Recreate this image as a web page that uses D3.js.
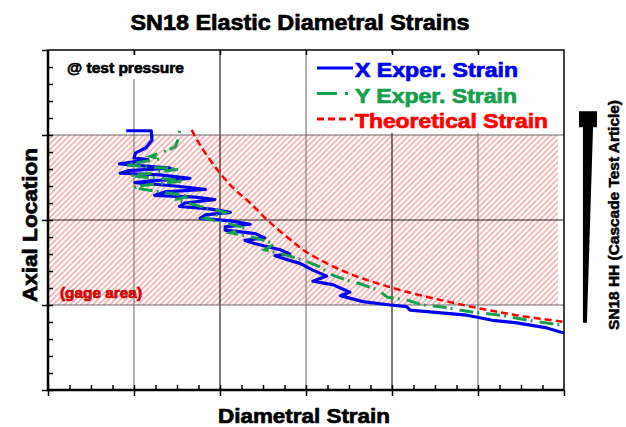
<!DOCTYPE html>
<html>
<head>
<meta charset="utf-8">
<script src="https://cdnjs.cloudflare.com/ajax/libs/d3/7.8.5/d3.min.js"></script>
<style>
body { margin: 0; background: #fff; }
svg text { font-family: "Liberation Sans", Arial, sans-serif; font-weight: bold; }
</style>
</head>
<body>
<div id="chart"></div>
<script>
// [strain, axial location]
var xExper = [[0.91,3.05],[1.20,3.05],[1.21,2.94],[1.14,2.85],[1.02,2.79],[1.00,2.73],[1.16,2.71],
  [0.90,2.67],[0.83,2.66],[1.07,2.64],[1.42,2.61],[0.93,2.58],[0.84,2.55],[1.30,2.53],[1.65,2.49],
  [1.19,2.46],[1.01,2.44],[1.48,2.40],[1.83,2.36],[1.36,2.33],[1.24,2.29],[1.71,2.27],[1.94,2.24],
  [1.59,2.20],[1.53,2.16],[1.88,2.13],[2.12,2.09],[1.83,2.06],[1.77,2.02],[2.12,1.99],[2.35,1.95],
  [2.06,1.92],[2.06,1.88],[2.41,1.84],[2.52,1.79],[2.29,1.76],[2.41,1.72],[2.70,1.65],[2.81,1.60],
  [2.64,1.58],[2.76,1.54],[2.93,1.49],[3.08,1.41],[3.24,1.34],[3.08,1.28],[3.31,1.24],[3.51,1.15],
  [3.40,1.11],[3.66,1.04],[3.98,1.00],[4.17,0.98],[4.21,0.94],[4.44,0.92],[4.87,0.88],[5.17,0.82],
  [5.45,0.79],[5.80,0.73],[6.00,0.67]];
var yExper = [[1.53,3.05],[1.51,2.94],[1.48,2.86],[1.34,2.80],[1.19,2.75],[1.30,2.72],[1.07,2.68],
  [0.90,2.65],[1.19,2.62],[1.53,2.60],[1.19,2.55],[0.95,2.52],[1.30,2.49],[1.59,2.46],[1.13,2.41],
  [0.99,2.38],[1.30,2.33],[1.65,2.28],[1.48,2.24],[1.77,2.16],[2.06,2.09],[1.83,2.02],[2.00,1.98],
  [2.29,1.91],[2.12,1.85],[2.41,1.79],[2.64,1.72],[2.52,1.65],[2.76,1.59],[2.99,1.52],[3.16,1.45],
  [3.31,1.35],[3.48,1.29],[3.63,1.25],[3.83,1.18],[3.95,1.09],[4.17,1.06],[4.36,1.00],[4.56,0.98],
  [4.91,0.92],[5.26,0.88],[5.64,0.81],[6.00,0.76]];
var theory = [[1.67,3.06],[1.77,2.88],[1.97,2.59],[2.15,2.38],[2.35,2.20],[2.55,2.00],[2.78,1.80],
  [3.01,1.62],[3.48,1.38],[4.01,1.20],[4.56,1.06],[5.02,0.96],[5.45,0.88],[6.00,0.80]];
var gageArea = [1, 3];
var seriesNames = ["X Exper. Strain", "Y Exper. Strain", "Theoretical Strain"];
// test article silhouette: [fraction of max diameter, axial location]
var articleOutline = [[0,3.28],[1,3.28],[1,3.09],[0.78,3.09],[0.44,0.79],[0.22,0.79],[0.22,3.09],[0,3.09]];

var width = 626, height = 427;
var svg = d3.select("#chart").append("svg")
  .attr("width", width)
  .attr("height", height);

var x = d3.scaleLinear().domain([0, 6]).range([48, 564]);
var y = d3.scaleLinear().domain([0, 4]).range([390, 50]);

var defs = svg.append("defs");
var pat = defs.append("pattern")
  .attr("id", "hatch")
  .attr("patternUnits", "userSpaceOnUse")
  .attr("width", 4).attr("height", 4)
  .attr("patternTransform", "rotate(45)");
pat.append("line")
  .attr("x1", 1).attr("y1", 0).attr("x2", 1).attr("y2", 4)
  .attr("stroke", "#f6b2b2").attr("stroke-width", 1.8);
defs.append("clipPath").attr("id", "plotclip")
  .append("rect")
  .attr("x", x(0)).attr("y", y(4))
  .attr("width", x(6) - x(0)).attr("height", y(0) - y(4));

// gage area
svg.append("rect")
  .attr("x", x(0)).attr("y", y(gageArea[1]))
  .attr("width", x(5.93) - x(0))
  .attr("height", y(gageArea[0]) - y(gageArea[1]))
  .attr("fill", "url(#hatch)");

// grid
svg.append("g").selectAll("line")
  .data([1, 2, 3, 4, 5])
  .enter().append("line")
  .attr("x1", function(d) { return x(d); })
  .attr("x2", function(d) { return x(d); })
  .attr("y1", y(0)).attr("y2", y(4))
  .attr("stroke", function(d) { return d % 2 ? "#808080" : "#222"; })
  .attr("stroke-width", 1.2);
svg.append("g").selectAll("line")
  .data([1, 2, 3])
  .enter().append("line")
  .attr("x1", x(0)).attr("x2", x(6))
  .attr("y1", function(d) { return y(d); })
  .attr("y2", function(d) { return y(d); })
  .attr("stroke", function(d) { return d % 2 ? "#666" : "#222"; })
  .attr("stroke-width", 1.2);

// boxes behind the labels
svg.append("rect").attr("x", 60).attr("y", 55).attr("width", 130).attr("height", 24).attr("fill", "#fff");
svg.append("rect").attr("x", 310).attr("y", 53).attr("width", 250).attr("height", 80).attr("fill", "#fff");

svg.append("text")
  .attr("x", 67).attr("y", 73)
  .attr("font-size", 14)
  .attr("stroke", "#000").attr("stroke-width", 0.6)
  .attr("textLength", 117).attr("lengthAdjust", "spacingAndGlyphs")
  .text("@ test pressure");

svg.append("text")
  .attr("x", 60).attr("y", 298)
  .attr("font-size", 14)
  .attr("fill", "#f00")
  .attr("stroke", "#a00").attr("stroke-width", 0.6)
  .attr("textLength", 82).attr("lengthAdjust", "spacingAndGlyphs")
  .text("(gage area)");

// curves
var line = d3.line()
  .x(function(d) { return x(d[0]); })
  .y(function(d) { return y(d[1]); });
var curves = svg.append("g").attr("clip-path", "url(#plotclip)");
curves.append("path")
  .datum(xExper)
  .attr("d", line)
  .attr("fill", "none").attr("stroke", "#0000f0").attr("stroke-width", 3.2)
  .attr("stroke-linejoin", "round");
curves.append("path")
  .datum(yExper)
  .attr("d", line)
  .attr("fill", "none").attr("stroke", "#14a04c").attr("stroke-width", 3)
  .attr("stroke-dasharray", "2,7,14,4");
curves.append("path")
  .datum(theory)
  .attr("d", line.curve(d3.curveCatmullRom))
  .attr("fill", "none").attr("stroke", "#ff0000").attr("stroke-width", 2.5)
  .attr("stroke-dasharray", "7,4");

// axes
svg.append("g").attr("transform", "translate(" + x(0) + ",0)")
  .call(d3.axisLeft(y).tickValues([0, 1, 2, 3, 4]).tickSize(6).tickFormat(""));
svg.append("g").attr("transform", "translate(" + x(0) + ",0)")
  .call(d3.axisLeft(y).tickValues(d3.range(0, 4, 0.2)).tickSize(-5).tickFormat(""));
svg.append("g").attr("transform", "translate(0," + y(0) + ")")
  .call(d3.axisBottom(x).tickValues([0, 1, 2, 3, 4, 5, 6]).tickSize(6).tickFormat(""));
svg.append("g").attr("transform", "translate(0," + y(0) + ")")
  .call(d3.axisBottom(x).tickValues(d3.range(0, 6, 0.25)).tickSize(-5).tickFormat(""));
svg.append("g").attr("transform", "translate(0," + y(4) + ")")
  .call(d3.axisTop(x).tickValues([1, 2, 3, 4, 5]).tickSize(-5).tickFormat(""));
svg.selectAll(".domain").remove();
svg.selectAll(".tick line").attr("stroke", "#000").attr("stroke-width", 1.5);

svg.append("rect")
  .attr("x", x(0)).attr("y", y(4))
  .attr("width", x(6) - x(0)).attr("height", y(0) - y(4))
  .attr("fill", "none").attr("stroke", "#000").attr("stroke-width", 1.5);
svg.append("line")
  .attr("x1", x(0)).attr("x2", x(0)).attr("y1", y(4)).attr("y2", y(0))
  .attr("stroke", "#000").attr("stroke-width", 2.5);
svg.append("line")
  .attr("x1", x(0) - 1).attr("x2", x(6)).attr("y1", y(0)).attr("y2", y(0))
  .attr("stroke", "#000").attr("stroke-width", 2.5);

// legend
var legendColors = ["#0000f0", "#14a04c", "#ff0000"];
var legendDash = [null, "20,8,3,8", "7,4"];
var legendLen = [163, 162, 193];
var lg = svg.append("g").selectAll("g")
  .data(seriesNames)
  .enter().append("g")
  .attr("transform", function(d, i) { return "translate(317," + (68 + i * 25.5) + ")"; });
lg.append("line")
  .attr("x1", 0).attr("x2", 36).attr("y1", 0).attr("y2", 0)
  .attr("stroke", function(d, i) { return legendColors[i]; })
  .attr("stroke-width", 3)
  .attr("stroke-dasharray", function(d, i) { return legendDash[i]; });
lg.append("text")
  .attr("x", 38).attr("y", 9)
  .attr("font-size", 20)
  .attr("fill", function(d, i) { return legendColors[i]; })
  .attr("stroke", function(d, i) { return legendColors[i]; })
  .attr("stroke-width", 0.7)
  .attr("textLength", function(d, i) { return legendLen[i]; })
  .attr("lengthAdjust", "spacingAndGlyphs")
  .text(function(d) { return d; });

// titles
svg.append("text")
  .attr("x", 300).attr("y", 30)
  .attr("text-anchor", "middle")
  .attr("font-size", 22)
  .attr("stroke", "#000").attr("stroke-width", 0.7)
  .attr("textLength", 339).attr("lengthAdjust", "spacingAndGlyphs")
  .text("SN18 Elastic Diametral Strains");
svg.append("text")
  .attr("transform", "translate(37,225) rotate(-90)")
  .attr("text-anchor", "middle")
  .attr("font-size", 21)
  .attr("stroke", "#000").attr("stroke-width", 0.7)
  .attr("textLength", 154).attr("lengthAdjust", "spacingAndGlyphs")
  .text("Axial Location");
svg.append("text")
  .attr("x", 304).attr("y", 423)
  .attr("text-anchor", "middle")
  .attr("font-size", 21)
  .attr("stroke", "#000").attr("stroke-width", 0.7)
  .attr("textLength", 172).attr("lengthAdjust", "spacingAndGlyphs")
  .text("Diametral Strain");

// test article
var ax = d3.scaleLinear().domain([0, 1]).range([579, 597]);
svg.append("path")
  .datum(articleOutline)
  .attr("d", d3.line().x(function(d) { return ax(d[0]); }).y(function(d) { return y(d[1]); }))
  .attr("fill", "#000");
svg.append("text")
  .attr("transform", "translate(619,215) rotate(-90)")
  .attr("text-anchor", "middle")
  .attr("font-size", 14)
  .attr("stroke", "#000").attr("stroke-width", 0.5)
  .attr("textLength", 230).attr("lengthAdjust", "spacingAndGlyphs")
  .text("SN18  HH (Cascade Test Article)");
</script>
</body>
</html>
